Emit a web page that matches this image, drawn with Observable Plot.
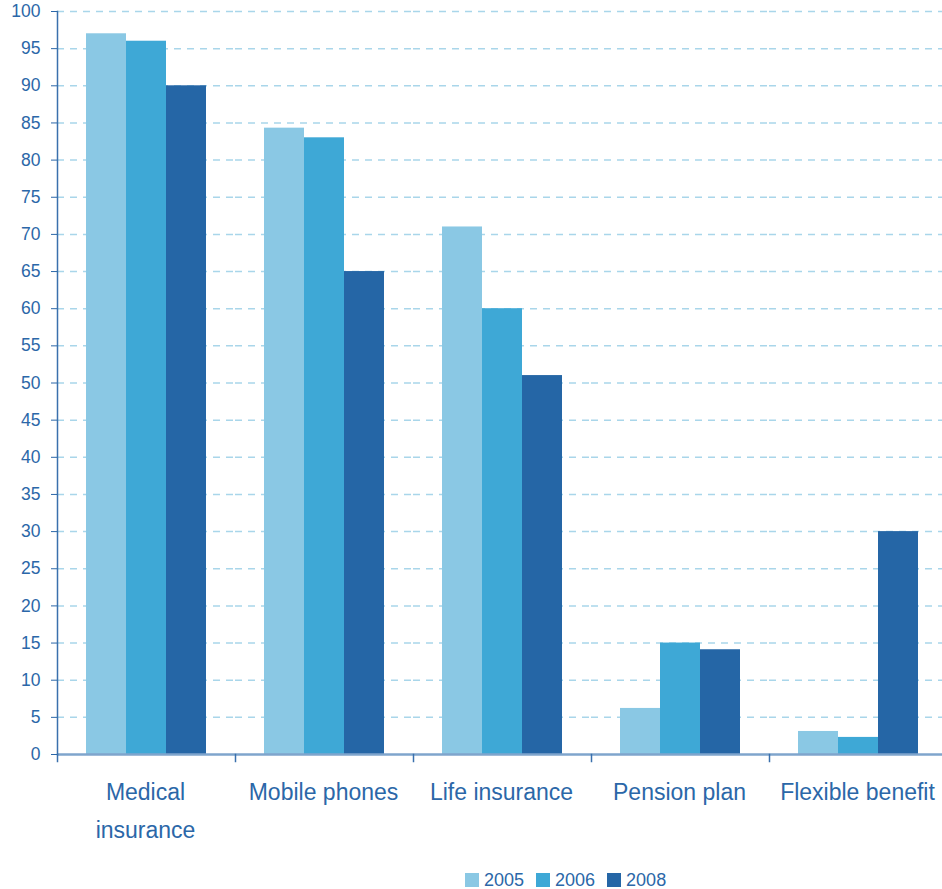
<!DOCTYPE html>
<html>
<head>
<meta charset="utf-8">
<script src="https://cdn.jsdelivr.net/npm/d3@7"></script>
<script src="https://cdn.jsdelivr.net/npm/@observablehq/plot@0.6"></script>
<style>
  body { margin: 0; background: #fff; font-family: "Liberation Sans", Arial, sans-serif; overflow: hidden; }
  #legend { display: flex; align-items: center; padding-left: 465px; padding-top: 16px; height: 18px; }
  .item { display: flex; align-items: center; margin-right: 12px; color: #2b67a8; font-size: 18px; }
  .sw { width: 14px; height: 14px; margin-right: 5px; }
</style>
</head>
<body>
<div id="chart"></div>
<div id="legend"></div>
<script>
const categories = ["Medical insurance", "Mobile phones", "Life insurance", "Pension plan", "Flexible benefit"];
const categoryLabels = ["Medical\ninsurance", "Mobile phones", "Life insurance", "Pension plan", "Flexible benefit"];
const years = ["2005", "2006", "2008"];
const values2005 = [97, 84.3, 71, 6.2, 3.1];
const values2006 = [96, 83, 60, 15, 2.3];
const values2008 = [90, 65, 51, 14.1, 30];
const yTicks = d3.range(0, 101, 5);
const colors = ["#8ac8e4", "#3ea8d6", "#2566a6"];

const seriesValues = [values2005, values2006, values2008];
const data = [];
categories.forEach((c, i) => years.forEach((y, j) => data.push({category: c, year: y, value: seriesValues[j][i]})));

const textColor = "#2b67a8";
const chart = Plot.plot({
  width: 942,
  height: 855,
  marginLeft: 55,
  marginRight: -6,
  marginTop: 11,
  marginBottom: 101,
  style: {fontFamily: '"Liberation Sans", Arial, sans-serif', color: textColor, background: "#fff", overflow: "hidden"},
  fx: {domain: categories, padding: 0, label: null},
  x: {domain: years, paddingInner: 0, paddingOuter: 0.705, axis: null},
  y: {domain: [0, 100], axis: null, label: null},
  color: {domain: years, range: colors},
  marks: [
    Plot.gridY(yTicks.filter(d => d > 0), {stroke: "#a9d6ea", strokeOpacity: 1, strokeWidth: 1.5, strokeDasharray: "7,6"}),
    Plot.barY(data, {fx: "category", x: "year", y: "value", fill: "year"}),
    Plot.ruleY([0], {stroke: "#7fa5cc", strokeWidth: 2.5}),
    Plot.frame({anchor: "left", stroke: "#3a70ad", strokeWidth: 1.5, facetAnchor: "left"}),
    Plot.frame({anchor: "left", stroke: "#3a70ad", strokeWidth: 1.5, insetTop: 743, insetBottom: -7}),
    Plot.axisY({ticks: yTicks, tickSize: 6, tickPadding: 11, fontSize: 17.5, stroke: "#2b67a8", fill: textColor, label: null}),
    Plot.axisFx({anchor: "bottom", tickSize: 0, tickPadding: 19, fontSize: 23, lineHeight: 1.65, fill: textColor,
      letterSpacing: "0.3px", dx: -1,
      tickFormat: d => categoryLabels[categories.indexOf(d)], label: null})
  ]
});
document.getElementById("chart").appendChild(chart);

const legend = document.getElementById("legend");
years.forEach((y, i) => {
  const item = document.createElement("div");
  item.className = "item";
  const sw = document.createElement("div");
  sw.className = "sw";
  sw.style.background = colors[i];
  const t = document.createElement("span");
  t.textContent = y;
  item.appendChild(sw);
  item.appendChild(t);
  legend.appendChild(item);
});
</script>
</body>
</html>
